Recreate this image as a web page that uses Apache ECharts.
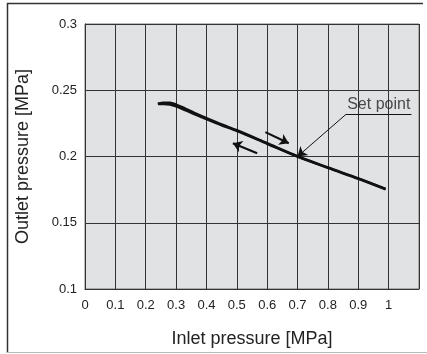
<!DOCTYPE html>
<html><head><meta charset="utf-8">
<script src="https://cdn.jsdelivr.net/npm/echarts@6/dist/echarts.min.js"></script>
<style>html,body{margin:0;padding:0;background:#fff}#c{width:427px;height:354px}</style>
</head><body><div id="c"></div>
<script>
// Data
var xTicks = [0, 0.1, 0.2, 0.3, 0.4, 0.5, 0.6, 0.7, 0.8, 0.9, 1];
var yTicks = [0.1, 0.15, 0.2, 0.25, 0.3];
var upperCurve = [[0.24,0.2398],[0.26,0.2405],[0.28,0.2405],[0.30,0.2392],[0.33,0.2362],[0.36,0.2330],[0.40,0.2290],[0.45,0.2242],[0.50,0.2198],[0.60,0.2100],[0.70,0.2002],[0.80,0.1917],[0.90,0.1835],[0.99,0.1756]];
var lowerCurve = [[0.24,0.2396],[0.26,0.2397],[0.28,0.2392],[0.30,0.2378],[0.33,0.2350],[0.36,0.2320],[0.40,0.2282],[0.45,0.2236],[0.50,0.2193],[0.60,0.2096],[0.70,0.1999],[0.80,0.1914],[0.90,0.1832],[0.99,0.1753]];
var arrowUp = [[0.594,0.2184],[0.671,0.2100]];
var arrowDown = [[0.567,0.2025],[0.487,0.2100]];
var setPoint = [0.70, 0.2000];
var leaderStart = [0.86, 0.2319];
var underline = [[0.86,0.2319],[1.075,0.2319]];
var setLabel = 'Set point';

var chart = echarts.init(document.getElementById('c'), null, {renderer:'canvas'});
var font = 'Liberation Sans, Arial, Helvetica, sans-serif';
chart.setOption({
  animation:false,
  backgroundColor:'#fff',
  textStyle:{fontFamily:font},
  grid:{left:85, top:24, right:8, bottom:65, show:true, backgroundColor:'#e1e2e4', borderColor:'#777', borderWidth:1, containLabel:false},
  graphic:[
    {type:'line', shape:{x1:7,y1:3.5,x2:423,y2:3.5}, style:{stroke:'#333',lineWidth:1.5}},
    {type:'line', shape:{x1:7.5,y1:3,x2:7.5,y2:353}, style:{stroke:'#333',lineWidth:1.5}},
    {type:'line', shape:{x1:7,y1:352.5,x2:427,y2:352.5}, style:{stroke:'#bbb',lineWidth:1}}
  ],
  xAxis:{type:'value', min:0, max:1.1, interval:0.1,
    name:'Inlet pressure [MPa]', nameLocation:'middle', nameGap:41,
    nameTextStyle:{fontSize:18, color:'#222', fontFamily:font},
    axisLine:{show:true, onZero:false, lineStyle:{color:'#333',width:1}},
    axisTick:{show:false},
    splitLine:{show:true, lineStyle:{color:'#333',width:1}},
    axisLabel:{fontSize:13, color:'#222', margin:10, fontFamily:font,
      formatter:function(v){ var r=Math.round(v*10)/10; return xTicks.indexOf(r)>=0 ? String(r) : ''; }}
  },
  yAxis:{type:'value', min:0.1, max:0.3, interval:0.05,
    name:'Outlet pressure [MPa]', nameLocation:'middle', nameGap:53, nameRotate:90,
    nameTextStyle:{fontSize:18, color:'#222', fontFamily:font},
    axisLine:{show:true, onZero:false, lineStyle:{color:'#333',width:1}},
    axisTick:{show:false},
    splitLine:{show:true, lineStyle:{color:'#333',width:1}},
    axisLabel:{fontSize:13, color:'#222', margin:8, fontFamily:font, padding:[9,0,0,0],
      formatter:function(v){ var r=Math.round(v*100)/100; return yTicks.indexOf(r)>=0 ? String(r) : ''; }}
  },
  series:[
    {type:'line', data:upperCurve, showSymbol:false, smooth:0.3, lineStyle:{color:'#111',width:2.5}, z:5},
    {type:'line', data:lowerCurve, showSymbol:false, smooth:0.3, lineStyle:{color:'#111',width:2.5}, z:5},
    {type:'lines', coordinateSystem:'cartesian2d', z:6,
      symbol:['none','arrow'], symbolSize:[0,9],
      lineStyle:{color:'#111',width:2.2,opacity:1},
      data:[{coords:arrowUp},{coords:arrowDown}]},
    {type:'lines', coordinateSystem:'cartesian2d', z:6,
      symbol:['none','arrow'], symbolSize:[0,9],
      lineStyle:{color:'#111',width:1,opacity:1},
      data:[{coords:[leaderStart,setPoint]}]},
    {type:'lines', coordinateSystem:'cartesian2d', z:6,
      symbol:['none','none'],
      lineStyle:{color:'#111',width:1,opacity:1},
      data:[{coords:underline}]},
    {type:'scatter', data:[[(underline[0][0]+underline[1][0])/2, underline[0][1]]], symbolSize:0, z:7,
      label:{show:true, position:'top', distance:2, formatter:setLabel, fontSize:16, color:'#222', fontFamily:font}}
  ]
});
</script></body></html>
